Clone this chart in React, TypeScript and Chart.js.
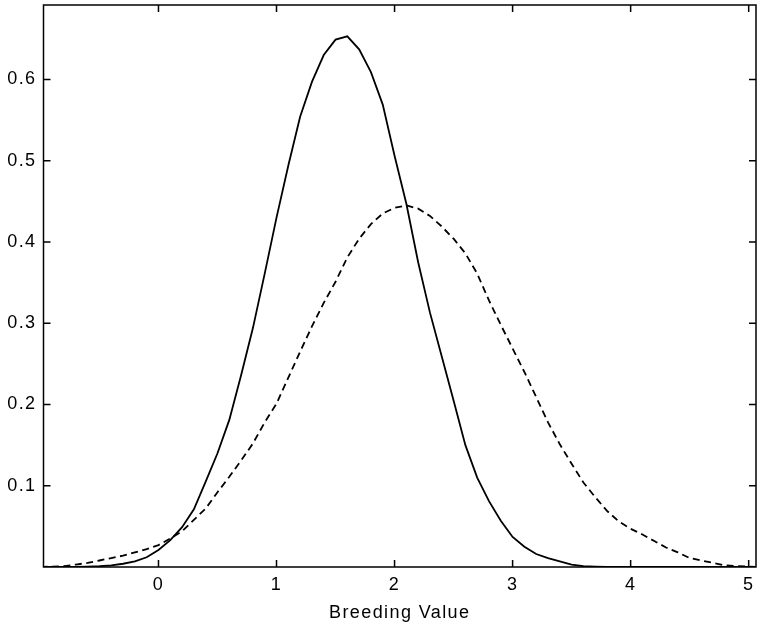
import React, { useEffect, useRef } from 'react';
import { Chart, registerables } from 'chart.js';

Chart.register(...registerables);

// Breeding value grid (x)
const breedingValues = [
  -1.0, -0.9, -0.8, -0.7, -0.6, -0.5, -0.4, -0.3, -0.2, -0.1,
  0.0, 0.1, 0.2, 0.3, 0.4, 0.5, 0.6, 0.7, 0.8, 0.9,
  1.0, 1.1, 1.2, 1.3, 1.4, 1.5, 1.6, 1.7, 1.8, 1.9,
  2.0, 2.1, 2.2, 2.3, 2.4, 2.5, 2.6, 2.7, 2.8, 2.9,
  3.0, 3.1, 3.2, 3.3, 3.4, 3.5, 3.6, 3.7, 3.8, 3.9,
  4.0, 4.1, 4.2, 4.3, 4.4, 4.5, 4.6, 4.7, 4.8, 4.9,
  5.0, 5.1,
];

// Solid curve (narrow, taller)
const solidDensity = [
  0, 0, 0, 0, 0.0005, 0.001, 0.002, 0.004, 0.007, 0.012,
  0.021, 0.033, 0.049, 0.071, 0.105, 0.140, 0.181, 0.236, 0.294, 0.361,
  0.430, 0.494, 0.554, 0.597, 0.630, 0.649, 0.653, 0.637, 0.609, 0.569,
  0.506, 0.447, 0.375, 0.313, 0.259, 0.205, 0.150, 0.110, 0.081, 0.057,
  0.037, 0.025, 0.016, 0.011, 0.007, 0.003, 0.001, 0.0005, 0, 0,
  0, 0, 0, 0, 0, 0, 0, 0, 0, 0,
  0, 0,
];

// Dashed curve (wider, lower)
const dashedDensity = [
  0, 0.0005, 0.001, 0.003, 0.005, 0.008, 0.011, 0.014, 0.018, 0.022,
  0.027, 0.035, 0.044, 0.058, 0.072, 0.092, 0.111, 0.131, 0.152, 0.178,
  0.201, 0.233, 0.265, 0.296, 0.325, 0.351, 0.381, 0.404, 0.422, 0.435,
  0.442, 0.445, 0.441, 0.432, 0.419, 0.404, 0.386, 0.361, 0.328, 0.298,
  0.269, 0.240, 0.209, 0.178, 0.151, 0.127, 0.104, 0.086, 0.069, 0.056,
  0.047, 0.040, 0.032, 0.024, 0.018, 0.011, 0.008, 0.005, 0.002, 0.001,
  0.0005, 0,
];

const xTickValues = [0, 1, 2, 3, 4, 5];
const yTickValues = [0.1, 0.2, 0.3, 0.4, 0.5, 0.6];
const xAxisTitle = 'Breeding Value';

const X_MIN = -0.974;
const X_MAX = 5.062;
const Y_MIN = 0;
const Y_MAX = 0.6916;

const FONT_FAMILY = '"Liberation Sans", Arial, Helvetica, sans-serif';
const FONT_SIZE = 18;
const LETTER_SPACING = '1.4px';

const letterSpacingPlugin = {
  id: 'letterSpacing',
  beforeUpdate(chart: any) {
    chart.ctx.letterSpacing = LETTER_SPACING;
  },
  beforeDraw(chart: any) {
    chart.ctx.letterSpacing = LETTER_SPACING;
  },
};

const framePlugin = {
  id: 'frameTicks',
  afterDraw(chart: any) {
    const { ctx, chartArea } = chart;
    const { left, right, top, bottom } = chartArea;
    const xs = chart.scales.x;
    const ys = chart.scales.y;
    const len = 7;
    ctx.save();
    ctx.strokeStyle = '#000';
    ctx.lineWidth = 1.5;
    ctx.setLineDash([]);
    ctx.strokeRect(left, top, right - left, bottom - top);
    ctx.beginPath();
    xTickValues.forEach((v) => {
      const px = xs.getPixelForValue(v);
      ctx.moveTo(px, bottom);
      ctx.lineTo(px, bottom - len);
      ctx.moveTo(px, top);
      ctx.lineTo(px, top + len);
    });
    yTickValues.forEach((v) => {
      const py = ys.getPixelForValue(v);
      ctx.moveTo(left, py);
      ctx.lineTo(left + len, py);
      ctx.moveTo(right, py);
      ctx.lineTo(right - len, py);
    });
    ctx.stroke();
    ctx.restore();
  },
};

export default function App() {
  const canvasRef = useRef<HTMLCanvasElement | null>(null);

  useEffect(() => {
    if (!canvasRef.current) return;
    const solidPts = breedingValues.map((x, i) => ({ x, y: solidDensity[i] }));
    const dashedPts = breedingValues.map((x, i) => ({ x, y: dashedDensity[i] }));

    const chart = new Chart(canvasRef.current, {
      type: 'line',
      data: {
        datasets: [
          {
            label: 'solid',
            data: solidPts,
            borderColor: '#000',
            borderWidth: 1.8,
            pointRadius: 0,
            tension: 0,
            fill: false,
          },
          {
            label: 'dashed',
            data: dashedPts,
            borderColor: '#000',
            borderWidth: 1.8,
            borderDash: [7, 4.5],
            pointRadius: 0,
            tension: 0,
            fill: false,
          },
        ],
      },
      options: {
        animation: false,
        responsive: true,
        maintainAspectRatio: false,
        devicePixelRatio: 1,
        layout: { padding: { top: 5, right: 2, left: 0, bottom: 0 } },
        plugins: {
          legend: { display: false },
          tooltip: { enabled: false },
        },
        scales: {
          x: {
            type: 'linear',
            min: X_MIN,
            max: X_MAX,
            grid: { display: false, drawTicks: false },
            border: { display: false },
            afterBuildTicks: (scale: any) => {
              scale.ticks = xTickValues.map((v) => ({ value: v }));
            },
            afterFit: (scale: any) => {
              scale.height = 63;
              scale.paddingLeft = 0;
              scale.paddingRight = 0;
            },
            ticks: {
              color: '#000',
              padding: 7,
              maxRotation: 0,
              autoSkip: false,
              font: { family: FONT_FAMILY, size: FONT_SIZE },
              callback: (v: any) => String(v),
            },
            title: {
              display: true,
              text: xAxisTitle,
              color: '#000',
              font: { family: FONT_FAMILY, size: FONT_SIZE },
              padding: { top: 0, bottom: 6.5 },
            },
          },
          y: {
            type: 'linear',
            min: Y_MIN,
            max: Y_MAX,
            grid: { display: false, drawTicks: false },
            border: { display: false },
            afterBuildTicks: (scale: any) => {
              scale.ticks = yTickValues.map((v) => ({ value: v }));
            },
            afterFit: (scale: any) => {
              scale.width = 43.5;
              scale.paddingTop = 0;
              scale.paddingBottom = 0;
            },
            ticks: {
              color: '#000',
              padding: 7,
              autoSkip: false,
              font: { family: FONT_FAMILY, size: FONT_SIZE },
              callback: (v: any) => Number(v).toFixed(1),
            },
          },
        },
      },
      plugins: [letterSpacingPlugin, framePlugin],
    });

    return () => {
      chart.destroy();
    };
  }, []);

  return (
    <div
      style={{
        position: 'fixed',
        left: 0,
        top: 0,
        width: 758,
        height: 630,
        background: '#fff',
      }}
    >
      <canvas ref={canvasRef} />
    </div>
  );
}
